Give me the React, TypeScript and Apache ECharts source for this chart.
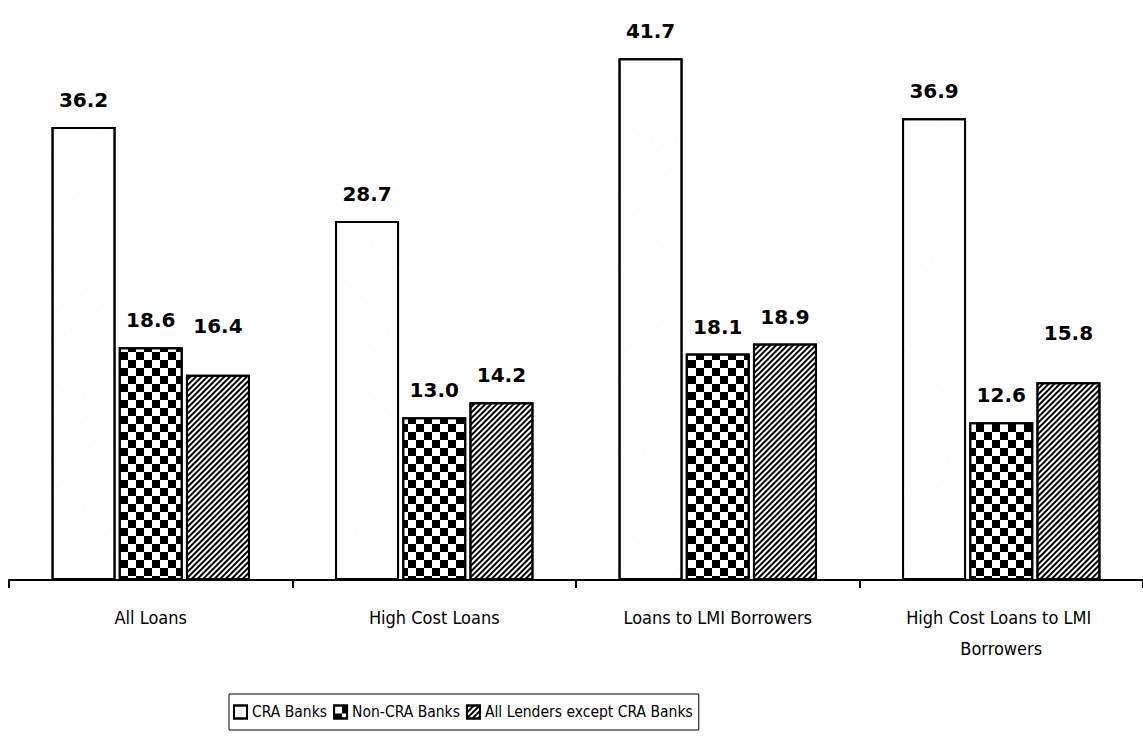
import React, { useEffect, useRef } from "react";
import * as echarts from "echarts";

// Loan shares by lender type (percent)
const categories = [
  "All Loans",
  "High Cost Loans",
  "Loans to LMI Borrowers",
  "High Cost Loans to LMI Borrowers",
];
const seriesNames = ["CRA Banks", "Non-CRA Banks", "All Lenders except CRA Banks"];
const craBanks = [36.2, 28.7, 41.7, 36.9];
const nonCraBanks = [18.6, 13.0, 18.1, 12.6];
const allLendersExceptCra = [16.4, 14.2, 18.9, 15.8];

const TEXT_FONT = "DejaVu Sans Condensed, DejaVu Sans, sans-serif";
const VALUE_FONT = "DejaVu Sans, Verdana, sans-serif";

// Decal fills imitating the printed monochrome patterns
const speckleDecal = {
  color: "#9a9a9a",
  backgroundColor: "#ffffff",
  symbol: "rect",
  symbolSize: 0.35,
  dashArrayX: [[1, 13], [0, 6, 1, 7]],
  dashArrayY: [1, 9],
  rotation: 0.3,
};
const checkerDecal = {
  color: "#000000",
  backgroundColor: "#ffffff",
  symbol: "rect",
  symbolSize: 1,
  dashArrayX: [[8, 8], [0, 8, 8, 0]],
  dashArrayY: [8, 0],
};
const hatchDecal = {
  color: "#000000",
  backgroundColor: "#8c8c8c",
  symbol: "rect",
  symbolSize: 1,
  dashArrayX: [1, 0],
  dashArrayY: [1.6, 1.4],
  rotation: -Math.PI / 4,
};

export default function App() {
  const ref = useRef<HTMLDivElement>(null);

  useEffect(() => {
    document.body.style.margin = "0";
    const chart = echarts.init(ref.current!, null, { renderer: "svg" });

    const labelBase = {
      show: true,
      position: "top",
      distance: 17,
      color: "#000",
      fontFamily: VALUE_FONT,
      fontWeight: "bold",
      fontSize: 20,
      formatter: (p: any) => Number(p.value).toFixed(1),
    };

    const makeSeries = (name: string, values: number[], decal: any, raised: number[] = []) => ({
      name,
      type: "bar",
      barWidth: 64,
      barGap: "5%",
      itemStyle: { color: "#fff", borderColor: "#000", borderWidth: 2, decal },
      label: labelBase,
      data: values.map((v, i) =>
        raised.includes(i) ? { value: v, label: { distance: 39 } } : v
      ),
    });

    chart.setOption({
      animation: false,
      backgroundColor: "#fff",
      grid: { left: 9, right: 0, top: 17, bottom: 169, containLabel: false },
      legend: {
        left: 229,
        top: 694,
        data: seriesNames,
        orient: "horizontal",
        borderColor: "#000",
        borderWidth: 1,
        borderRadius: 0,
        padding: [10, 6, 10, 4],
        itemWidth: 13,
        itemHeight: 13,
        itemGap: 6,
        icon: "rect",
        textStyle: { fontFamily: TEXT_FONT, fontSize: 15.5, color: "#000" },
      },
      xAxis: {
        type: "category",
        data: categories,
        axisLine: { lineStyle: { color: "#000", width: 2 } },
        axisTick: { show: true, length: 8, lineStyle: { color: "#000", width: 2 } },
        axisLabel: {
          interval: 0,
          margin: 22,
          color: "#000",
          fontFamily: TEXT_FONT,
          fontSize: 18,
          lineHeight: 31,
          width: 240,
          overflow: "break",
        },
      },
      yAxis: {
        type: "value",
        min: 0,
        max: 45,
        show: false,
        splitLine: { show: false },
      },
      series: [
        makeSeries(seriesNames[0], craBanks, speckleDecal),
        makeSeries(seriesNames[1], nonCraBanks, checkerDecal),
        makeSeries(seriesNames[2], allLendersExceptCra, hatchDecal, [0, 3]),
      ],
    });

    return () => chart.dispose();
  }, []);

  return <div ref={ref} style={{ width: 1143, height: 749 }} />;
}
